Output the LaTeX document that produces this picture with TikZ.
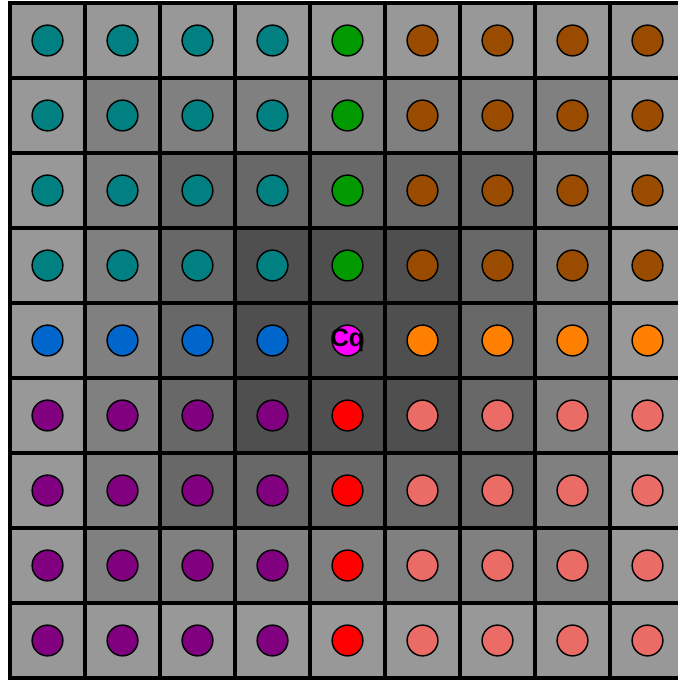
\documentclass[tikz,border=0pt]{standalone}
\usepackage{fontspec}
\setsansfont{Liberation Sans}
\usetikzlibrary{positioning}

% ring shades, by distance from the centre cell
\definecolor{ring1}{RGB}{79,79,79}
\definecolor{ring2}{RGB}{104,104,104}
\definecolor{ring3}{RGB}{128,128,128}
\definecolor{ring4}{RGB}{152,152,152}
% dot colours, by (column side, row side)
\definecolor{dot00}{RGB}{0,128,128}
\definecolor{dot10}{RGB}{0,153,0}
\definecolor{dot20}{RGB}{153,76,0}
\definecolor{dot01}{RGB}{0,102,204}
\definecolor{dot11}{RGB}{255,0,255}
\definecolor{dot21}{RGB}{255,128,0}
\definecolor{dot02}{RGB}{128,0,128}
\definecolor{dot12}{RGB}{255,0,0}
\definecolor{dot22}{RGB}{235,107,102}

\tikzset{
  cell/.style={draw=black, line width=1.15pt, minimum size=1cm, inner sep=0pt},
  dot/.style={circle, draw=black, line width=0.55pt, minimum size=0.41cm, inner sep=0pt},
}

\begin{document}
\begin{tikzpicture}
\useasboundingbox (0,0) rectangle (9.04,9.0667);

% Grid of cells with their dots
\foreach \i in {0,...,8}{
  \foreach \j in {0,...,8}{
    \pgfmathtruncatemacro{\d}{max(1,max(abs(\i-4),abs(\j-4)))}
    \pgfmathtruncatemacro{\sx}{sign(\i-4)+1}
    \pgfmathtruncatemacro{\sy}{sign(\j-4)+1}
    \node[cell, fill=ring\d] (cell-\i-\j) at (0.6333+\i, 8.5267-\j) {};
    \node[dot, fill=dot\sx\sy] (dot-\i-\j) at (cell-\i-\j.center) {};
  }
}

% Centre label
\node[font=\sffamily\bfseries\fontsize{9.6}{11}\selectfont, inner sep=0pt] (cq) at (dot-4-4) {Cq};

\end{tikzpicture}
\end{document}
